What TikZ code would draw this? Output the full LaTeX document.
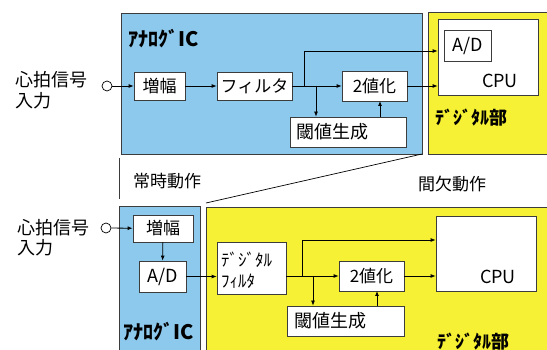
\documentclass[tikz,border=0pt]{standalone}
\usepackage{fontspec}
\setmainfont{Noto Sans CJK JP}
\usetikzlibrary{arrows.meta}
\definecolor{anablue}{RGB}{140,201,236}
\definecolor{digyel}{RGB}{246,241,52}
\definecolor{edge}{RGB}{60,60,60}
\tikzset{
  blk/.style={draw=edge, line width=0.8pt, fill=white, inner sep=0pt, font=\fontsize{17}{19}\selectfont},
  lbl/.style={inner sep=0pt, font=\fontsize{17}{19}\selectfont},
  side/.style={inner sep=0pt, font=\fontsize{18}{20}\selectfont},
  ttla/.style={inner sep=0pt, font=\fontsize{20}{22}\selectfont\bfseries},
  ttld/.style={inner sep=0pt, font=\fontsize{18}{20}\selectfont\bfseries},
  region/.style={draw=edge, line width=0.6pt},
  wire/.style={line width=0.8pt, draw=black},
  arr/.style={wire, -{Latex[length=5pt,width=4pt]}},
  inp/.style={circle, draw=black, line width=0.7pt, minimum size=10pt, inner sep=0pt, fill=white}
}
\begin{document}
\begin{tikzpicture}[x=1pt,y=-1pt]
\useasboundingbox (0,0) rectangle (547,350);
% regions
\path[region, fill=anablue] (121,13) rectangle (422,154);
\path[region, fill=digyel] (428,12) rectangle (549,154);
\path[region, fill=anablue] (119,206) rectangle (200,352);
\path[region, fill=digyel] (206,207) rectangle (549,352);
% top row nodes
\node[side, anchor=west] (sig1) at (15,80) {心拍信号};
\node[side, anchor=west] (in1) at (15,101) {入力};
\node[inp] (c1) at (107,86) {};
\node[ttla, anchor=west] (ana1) at (128,39) {ｱﾅﾛｸﾞIC};
\node[blk, minimum width=51, minimum height=28] (amp1) at (159.5,86) {増幅};
\node[blk, minimum width=75, minimum height=28] (filt1) at (254.5,86) {フィルタ};
\node[blk, minimum width=65, minimum height=30] (bin1) at (374.5,86) {2値化};
\node[blk, minimum width=116, minimum height=30] (thr1) at (348,132) {};
\node[side, anchor=west] (thr1t) at (296,132) {閾値生成};
\node[blk, minimum width=100, minimum height=76] (cpu1) at (488,57) {};
\node[blk, minimum width=47, minimum height=31, font=\fontsize{18}{20}\selectfont] (ad1) at (467.5,45.5) {A/D};
\node[side] (cpu1t) at (500,81) {CPU};
\node[ttld, anchor=west] (dig1) at (435,118) {ﾃﾞｼﾞﾀﾙ部};
% top connectors
\coordinate (j1a) at (304,86);
\coordinate (j1b) at (316,86);
\coordinate (t1) at (304,51);
\draw[arr] (c1) -- (amp1);
\draw[arr] (amp1) -- (filt1);
\draw[arr] (filt1.east) -- (bin1.west);
\draw[arr] (j1a) -- (t1) -- (t1 -| cpu1.west);
\draw[arr] (j1b) -- (j1b |- thr1.north);
\draw[arr] (380,117) -- (380,101);
\draw[arr] (bin1.east) -- (bin1.east -| cpu1.west);
% middle annotations
\coordinate (v1) at (119,158);
\coordinate (v2) at (119,199);
\draw[line width=0.8pt, draw=edge] (v1) -- (v2);
\node[lbl, anchor=west] (jouji) at (133,181) {常時動作};
\coordinate (d1) at (206,203);
\coordinate (d2) at (422,154);
\draw[line width=0.7pt] (d1) -- (d2);
\node[lbl, anchor=west] (kanketsu) at (418,184) {間欠動作};
% bottom row nodes
\node[side, anchor=west] (sig2) at (17,228) {心拍信号};
\node[side, anchor=west] (in2) at (17,248) {入力};
\node[inp] (c2) at (106,228) {};
\node[blk, minimum width=60, minimum height=27] (amp2) at (163,228.5) {増幅};
\node[blk, minimum width=47, minimum height=31, font=\fontsize{18}{20}\selectfont] (ad2) at (162.5,276.5) {A/D};
\node[blk, minimum width=69, minimum height=52] (dfilt) at (251.5,268) {};
\node[lbl, anchor=west] (df1) at (221,260) {ﾃﾞｼﾞﾀﾙ};
\node[lbl, anchor=west] (df2) at (221,281) {ﾌｨﾙﾀ};
\node[blk, minimum width=65, minimum height=30] (bin2) at (371.5,276) {2値化};
\node[blk, minimum width=117, minimum height=30] (thr2) at (345.5,321) {};
\node[side, anchor=west] (thr2t) at (294,321) {閾値生成};
\node[blk, minimum width=100, minimum height=75] (cpu2) at (486,253.5) {};
\node[side] (cpu2t) at (498,277) {CPU};
\node[ttla, anchor=west] (ana2) at (123,332) {ｱﾅﾛｸﾞIC};
\node[ttld, anchor=west] (dig2) at (437,342) {ﾃﾞｼﾞﾀﾙ部};
% bottom connectors
\coordinate (j2a) at (302,276);
\coordinate (j2b) at (313,276);
\coordinate (t2) at (302,240);
\draw[arr] (c2) -- (amp2);
\draw[arr] (amp2) -- (ad2);
\draw[arr] (ad2.east) -- (ad2.east -| dfilt.west);
\draw[wire] (dfilt.east |- bin2.west) -- (j2a);
\draw[arr] (j2a) -- (bin2.west);
\draw[arr] (j2a) -- (t2) -- (t2 -| cpu2.west);
\draw[arr] (j2b) -- (j2b |- thr2.north);
\draw[arr] (377,306) -- (377,291);
\draw[arr] (bin2.east) -- (bin2.east -| cpu2.west);
\end{tikzpicture}
\end{document}
